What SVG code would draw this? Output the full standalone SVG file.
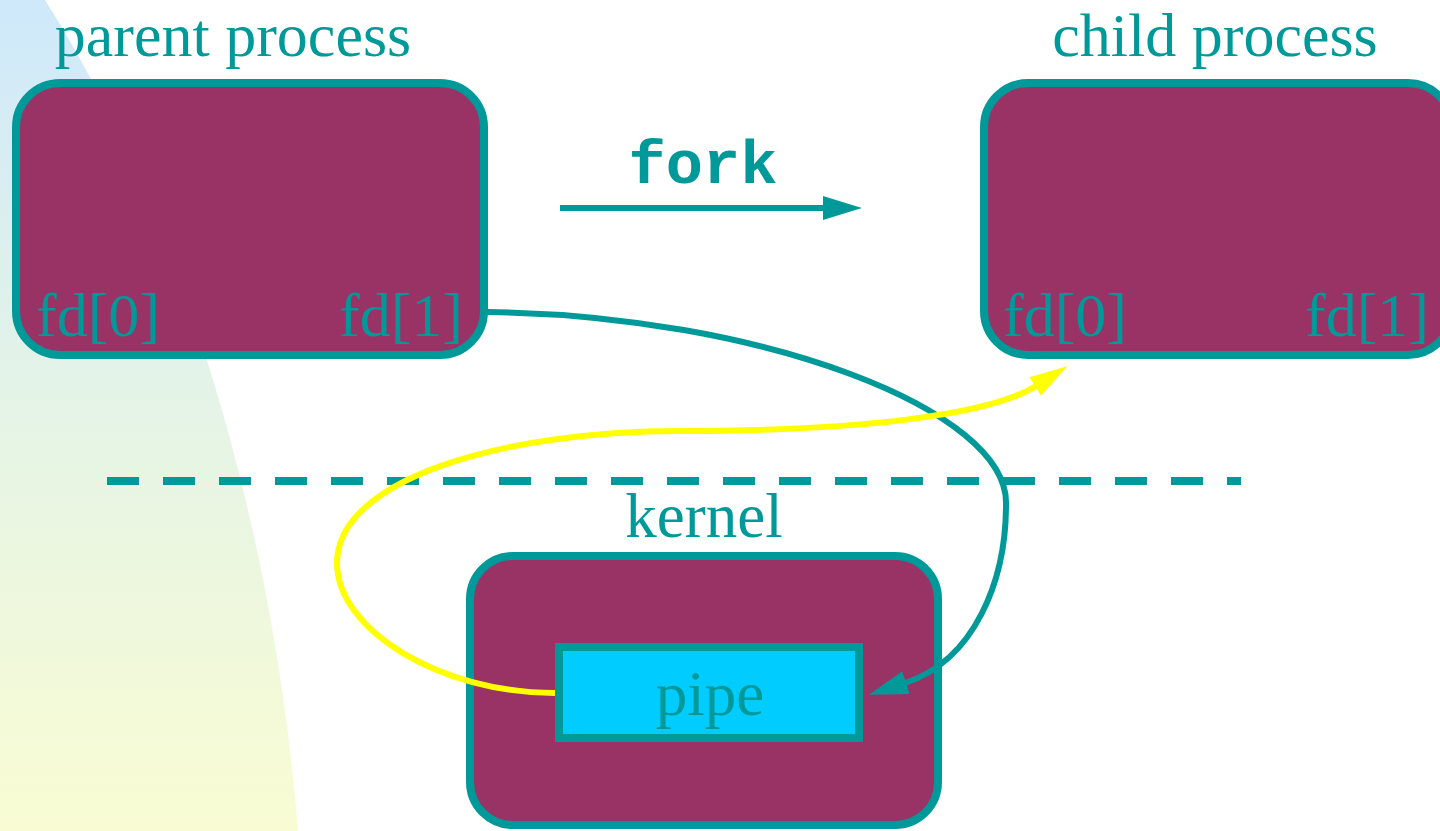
<svg xmlns="http://www.w3.org/2000/svg" width="1440" height="831" viewBox="0 0 1440 831">
  <defs>
    <linearGradient id="wash" x1="0" y1="0" x2="0" y2="1">
      <stop offset="0" stop-color="#cfe9fb"/>
      <stop offset="0.5" stop-color="#e5f4e6"/>
      <stop offset="1" stop-color="#f9fcd3"/>
    </linearGradient>
    <marker id="arrowTeal" markerUnits="userSpaceOnUse" markerWidth="40" markerHeight="26" viewBox="0 0 40 26" refX="1" refY="13" orient="auto">
      <path d="M0,1 L39,13 L0,25 Z" fill="#009999"/>
    </marker>
    <marker id="arrowYellow" markerUnits="userSpaceOnUse" markerWidth="40" markerHeight="26" viewBox="0 0 40 26" refX="1" refY="13" orient="auto">
      <path d="M0,2 L38,13 L0,24 Z" fill="#ffff00"/>
    </marker>
    <style>
      .box { fill: #993366; stroke: #009999; stroke-width: 8; }
      .pipe { fill: #00ccff; stroke: #009999; stroke-width: 8; }
      .title { font-family: "Liberation Serif", "Times New Roman", serif; font-size: 63px; fill: #009999; }
      .head { font-size: 62px; }
      .fd { font-family: "Liberation Serif", "Times New Roman", serif; font-size: 62px; fill: #009999; }
      .code { font-family: "Liberation Mono", "Courier New", monospace; font-weight: bold; font-size: 62px; fill: #009999; }
      .teal { fill: none; stroke: #009999; stroke-width: 6; }
      .yellow { fill: none; stroke: #ffff00; stroke-width: 6; }
    </style>
  </defs>

  <!-- background wash -->
  <path d="M0,0 L45,0 C160,180 270,480 298,831 L0,831 Z" fill="url(#wash)"/>

  <!-- user / kernel boundary -->
  <line x1="107" y1="481" x2="1241" y2="481" stroke="#009999" stroke-width="8" stroke-dasharray="32 24"/>

  <g id="parent">
    <text class="title head" x="233" y="56" text-anchor="middle">parent process</text>
    <rect class="box" x="16" y="83" width="468" height="272" rx="44" ry="44"/>
    <text class="fd" x="36" y="336">fd[0]</text>
    <text class="fd" x="463" y="336" text-anchor="end">fd[1]</text>
  </g>

  <g id="child">
    <text class="title head" x="1215" y="56" text-anchor="middle">child process</text>
    <rect class="box" x="984" y="83" width="468" height="272" rx="44" ry="44"/>
    <text class="fd" x="1003" y="336">fd[0]</text>
    <text class="fd" x="1429" y="336" text-anchor="end">fd[1]</text>
  </g>

  <g id="kernel">
    <text class="title" x="704" y="537" text-anchor="middle">kernel</text>
    <rect class="box" x="470" y="556" width="468" height="269" rx="43" ry="43"/>
  </g>

  <g id="pipe">
    <rect class="pipe" x="559" y="647" width="300" height="91"/>
    <text class="title" x="710" y="715" text-anchor="middle">pipe</text>
  </g>

  <g id="connectors">
    <!-- fork -->
    <text class="code" x="703" y="183" text-anchor="middle">fork</text>
    <line class="teal" x1="560" y1="208" x2="824" y2="208" stroke-width="8" marker-end="url(#arrowTeal)"/>
    <!-- parent write end into the pipe -->
    <path class="teal" d="M487,312 C760,315 1010,410 1006,505 C1006,580 975,660 905,683" marker-end="url(#arrowTeal)"/>
    <!-- pipe read end out to the child -->
    <path class="yellow" d="M555,693 C440,693 337,630 337,563 C337,480 500,431 680,431 C860,431 990,415 1036,386" marker-end="url(#arrowYellow)"/>
  </g>
</svg>
